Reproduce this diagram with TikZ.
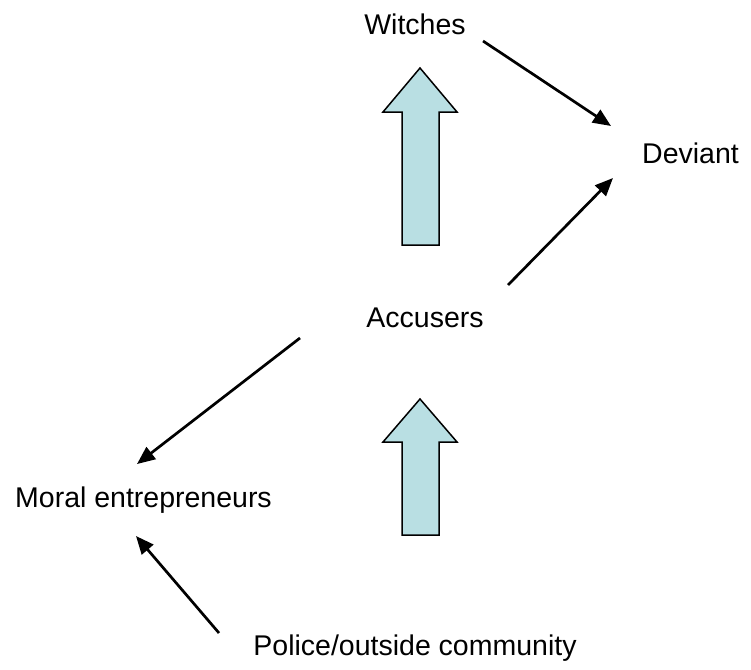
\documentclass[tikz,border=0pt]{standalone}
\usepackage{fontspec}
\setmainfont{Liberation Sans}
\usetikzlibrary{arrows.meta}
\definecolor{blockfill}{RGB}{185,223,227}
\begin{document}
\begin{tikzpicture}[x=1pt,y=-1pt,
  label/.style={anchor=base,inner sep=0pt,font=\fontsize{28.5}{34}\selectfont},
  link/.style={line width=2.7pt,-{Triangle[length=18pt,width=15pt]}},
  blockarrow/.style={draw=black,line width=1.5pt,fill=blockfill,line join=miter}]
\useasboundingbox (0,0) rectangle (751,669);

% labels
\node[label] (witches)  at (415,35)   {Witches};
\node[label] (deviant)  at (690.5,163) {Deviant};
\node[label] (accusers) at (425,327)  {Accusers};
\node[label] (moral)    at (143.5,507) {Moral entrepreneurs};
\node[label] (police)   at (415,655)  {Police/outside community};

% connector end points
\coordinate (w-out) at (483,41);
\coordinate (d-in1) at (611,126);
\coordinate (a-out1) at (508,285);
\coordinate (d-in2) at (613,178);
\coordinate (a-out2) at (300,338);
\coordinate (m-in1) at (137,464);
\coordinate (p-out) at (219,633);
\coordinate (m-in2) at (136,536);

\draw[link] (w-out) -- (d-in1);
\draw[link] (a-out1) -- (d-in2);
\draw[link] (a-out2) -- (m-in1);
\draw[link] (p-out) -- (m-in2);

% block arrows
\draw[blockarrow] (402,245) -- (402,112) -- (383,112) -- (420,68) -- (457,112)
  -- (439,112) -- (439,245) -- cycle;
\draw[blockarrow] (402,535) -- (402,442) -- (383,442) -- (420,399) -- (457,442)
  -- (439,442) -- (439,535) -- cycle;
\end{tikzpicture}
\end{document}
